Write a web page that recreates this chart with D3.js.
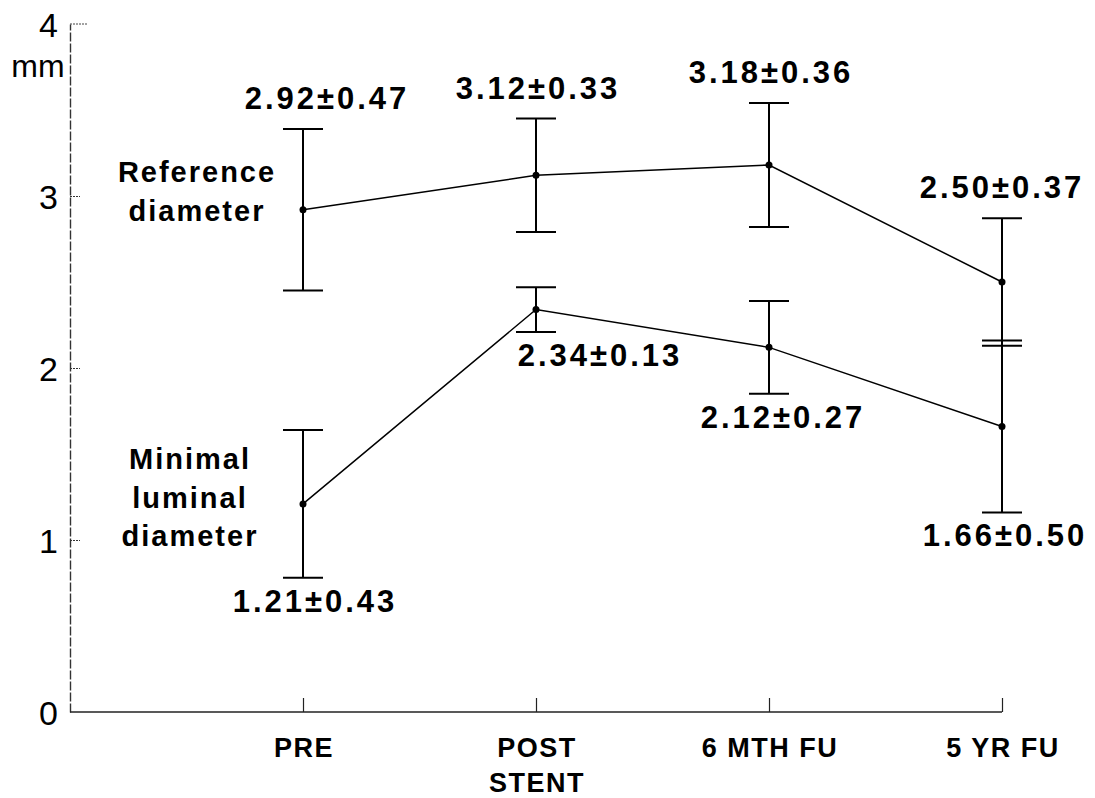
<!DOCTYPE html>
<html>
<head>
<meta charset="utf-8">
<script src="https://cdn.jsdelivr.net/npm/d3@7"></script>
<style>
  body { margin: 0; background: #fff; }
  svg { display: block; }
  text { font-family: "Liberation Sans", Arial, Helvetica, sans-serif; fill: #000; }
</style>
</head>
<body>
<svg width="1095" height="798"></svg>
<script>
// data
var stages = ["PRE", "POST STENT", "6 MTH FU", "5 YR FU"];
var refMean = [2.92, 3.12, 3.18, 2.50];
var refSD = [0.47, 0.33, 0.36, 0.37];
var mldMean = [1.21, 2.34, 2.12, 1.66];
var mldSD = [0.43, 0.13, 0.27, 0.50];
var yTicks = [0, 1, 2, 3, 4];

// label offsets (layout only)
var refLabelDx = [24, 2, 2, 0];
var mldLabelDx = [12, 64, 14, 3];

var svg = d3.select("svg");

var xScale = d3.scalePoint().domain(stages).range([303, 1002]);
var yScale = d3.scaleLinear().domain([0, 4]).range([712, 24]);

// y axis
var yAxis = d3.axisLeft(yScale).tickValues(yTicks).tickFormat(d3.format("d")).tickSize(0).tickPadding(12);
var yAxisG = svg.append("g").attr("id", "yAxisG").attr("transform", "translate(70,0)").call(yAxis);
yAxisG.select(".domain").attr("stroke", "#333").attr("stroke-width", 1.4).attr("stroke-dasharray", "9,2");
yAxisG.selectAll("text").style("font-size", "34px").style("font-weight", "300").attr("dy", "0.36em");

var yTickAxis = d3.axisRight(yScale).tickValues([1, 2, 3]).tickSize(10).tickFormat("");
var yTickG = svg.append("g").attr("transform", "translate(70,0)").call(yTickAxis);
yTickG.select(".domain").remove();
yTickG.selectAll("line").attr("stroke", "#333").attr("stroke-dasharray", "2,1");
svg.append("line")
  .attr("x1", 70).attr("x2", 88)
  .attr("y1", yScale(4)).attr("y2", yScale(4))
  .attr("stroke", "#444").attr("stroke-dasharray", "2,1");

svg.append("text").attr("x", 38).attr("y", 77).attr("text-anchor", "middle")
  .style("font-size", "32px").style("font-weight", "400").text("mm");

// x axis
var xAxis = d3.axisBottom(xScale).tickSize(-14).tickFormat("");
var xAxisG = svg.append("g").attr("id", "xAxisG").attr("transform", "translate(0,712)").call(xAxis);
xAxisG.select(".domain").attr("d", "M70,0H" + xScale.range()[1]).attr("stroke", "#222").attr("stroke-width", 1.4);
xAxisG.selectAll("line").attr("stroke", "#222").attr("stroke-width", 1.2);

var catLabels = svg.append("g");
stages.forEach(function (s) {
  var words = s === "POST STENT" ? ["POST", "STENT"] : [s];
  words.forEach(function (w, i) {
    catLabels.append("text")
      .attr("x", xScale(s) + 1)
      .attr("y", 757 + i * 35)
      .attr("text-anchor", "middle")
      .style("font-size", "27px").style("font-weight", "bold").style("letter-spacing", "1.5px")
      .text(w);
  });
});

function fmt(m, sd) {
  return m.toFixed(2) + "\u00b1" + sd.toFixed(2);
}

function drawSeries(means, sds, labelDx, above) {
  var g = svg.append("g");
  var line = d3.line()
    .x(function (d, i) { return xScale(stages[i]); })
    .y(function (d) { return yScale(d); });
  g.append("path").attr("d", line(means)).attr("fill", "none").attr("stroke", "#000").attr("stroke-width", 1.5);

  means.forEach(function (m, i) {
    var x = xScale(stages[i]);
    var top = yScale(m + sds[i]), bot = yScale(m - sds[i]);
    g.append("line").attr("x1", x).attr("x2", x).attr("y1", top).attr("y2", bot)
      .attr("stroke", "#000").attr("stroke-width", 2);
    [top, bot].forEach(function (yy) {
      g.append("line").attr("x1", x - 20).attr("x2", x + 20).attr("y1", yy).attr("y2", yy)
        .attr("stroke", "#000").attr("stroke-width", 2);
    });
    g.append("circle").attr("cx", x).attr("cy", yScale(m)).attr("r", 3.5).attr("fill", "#000");
    g.append("text")
      .attr("x", x + labelDx[i])
      .attr("y", above ? top - 20 : bot + 34)
      .attr("text-anchor", "middle")
      .style("font-size", "31px").style("font-weight", "bold").style("letter-spacing", "3px")
      .text(fmt(m, sds[i]));
  });
}

drawSeries(refMean, refSD, refLabelDx, true);
drawSeries(mldMean, mldSD, mldLabelDx, false);

// series names
var names = [
  { lines: ["Reference", "diameter"], x: 197, y: 182 },
  { lines: ["Minimal", "luminal", "diameter"], x: 190, y: 469 }
];
names.forEach(function (n) {
  n.lines.forEach(function (w, i) {
    svg.append("text").attr("x", n.x).attr("y", n.y + i * 38.5)
      .attr("text-anchor", "middle")
      .style("font-size", "29px").style("font-weight", "bold").style("letter-spacing", "2px")
      .text(w);
  });
});
</script>
</body>
</html>
